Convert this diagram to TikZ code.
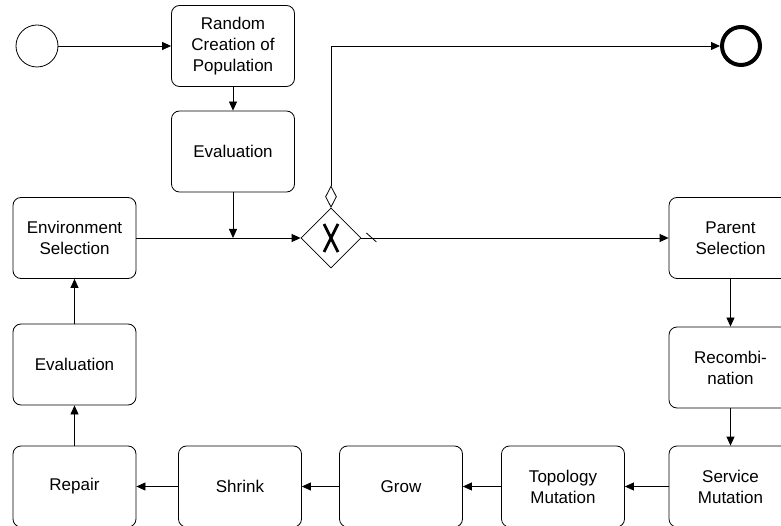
\documentclass[tikz,border=0pt]{standalone}
\usepackage{fontspec}
\setmainfont{Liberation Sans}
\usetikzlibrary{arrows.meta,shapes.geometric,calc}
\begin{document}
\begin{tikzpicture}[x=1pt,y=-1pt,
  task/.style={draw, rounded corners=8pt, minimum width=123pt, minimum height=81pt,
    align=center, font=\fontsize{17}{21}\selectfont, inner sep=2pt, line width=0.8pt},
  flow/.style={-{Triangle[length=9pt,width=8pt]}, line width=0.8pt},
  plain/.style={line width=0.8pt}]
\useasboundingbox (0,0) rectangle (781,526);
\begin{scope}
\clip (0,0) rectangle (781,526);
% events
\node[circle, draw, minimum size=42pt, inner sep=0, line width=0.8pt] (start) at (37,46) {};
\node[circle, draw, minimum size=38pt, inner sep=0, line width=4pt] (end) at (741,46) {};
% tasks
\node[task] (rand)   at (233,46)    {Random\\Creation of\\Population};
\node[task] (evalA)  at (233,151.5) {Evaluation};
\node[task] (env)    at (74.5,238)  {Environment\\Selection};
\node[task] (evalB)  at (74.5,364.5){Evaluation};
\node[task] (repair) at (74.5,486.5){Repair};
\node[task] (shrink) at (240,486.5) {Shrink};
\node[task] (grow)   at (401,486.5) {Grow};
\node[task] (topo)   at (563,486.5) {Topology\\Mutation};
\node[task] (svc)    at (730.5,486.5){Service\\Mutation};
\node[task] (recomb) at (730.5,367.5){Recombi-\\nation};
\node[task] (parent) at (730.5,238) {Parent\\Selection};
% exclusive gateway
\node[diamond, draw, minimum width=60pt, minimum height=60pt, inner sep=0, line width=0.8pt] (gw) at (331,238) {};
\draw[line width=2.8pt] ($(gw.center)+(-7,-14)$) -- ($(gw.center)+(7,14)$);
\draw[line width=2.8pt] ($(gw.center)+(7,-14)$) -- ($(gw.center)+(-7,14)$);
\node[diamond, draw, minimum width=11pt, minimum height=21pt, inner sep=0, anchor=south, line width=0.8pt] (cond) at (gw.north) {};
% sequence flows
\draw[flow] (start) -- (rand);
\draw[flow] (rand) -- (evalA);
\draw[flow] (evalA.south) -- (evalA.south |- env.east);
\draw[flow] (env.east) -- (gw.west);
\draw[flow] (cond.north) |- (end.west);
\draw[flow] (gw.east) -- (parent.west);
\draw[plain] ($(gw.east)+(5,-5)$) -- ($(gw.east)+(15,4)$);
\draw[flow] (parent) -- (recomb);
\draw[flow] (recomb) -- (svc);
\draw[flow] (svc) -- (topo);
\draw[flow] (topo) -- (grow);
\draw[flow] (grow) -- (shrink);
\draw[flow] (shrink) -- (repair);
\draw[flow] (repair) -- (evalB);
\draw[flow] (evalB) -- (env);
\end{scope}
\end{tikzpicture}
\end{document}
